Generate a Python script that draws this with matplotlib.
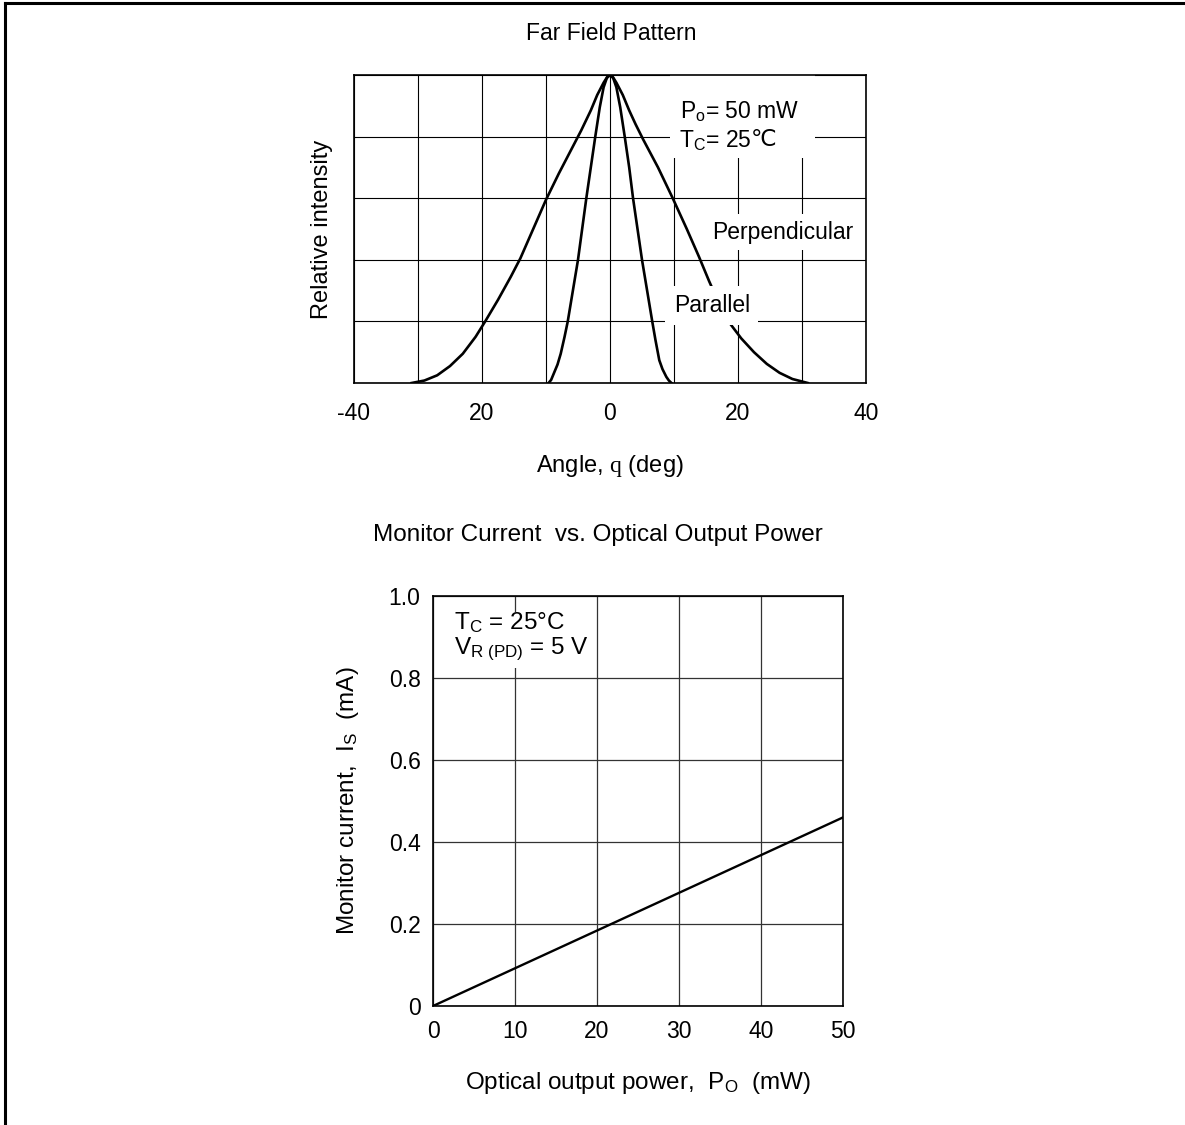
import matplotlib
matplotlib.use("Agg")
import matplotlib.pyplot as plt
from matplotlib.lines import Line2D
from matplotlib.patches import Rectangle

plt.rcParams['font.family'] = ['Liberation Sans', 'DejaVu Sans']
plt.rcParams['mathtext.fontset'] = 'custom'
plt.rcParams['mathtext.rm'] = 'Liberation Sans'
plt.rcParams['mathtext.it'] = 'Liberation Sans:italic'
plt.rcParams['mathtext.sf'] = 'Liberation Serif'
plt.rcParams['font.size'] = 16.5

######### Data #########
# Far field pattern, perpendicular (wide) curve
perp_angle = [-31.0, -29.0, -27.0, -25.0, -23.0, -21.0, -19.5, -17.5, -15.5, -14.0,
              -12.0, -10.0, -8.0, -6.0, -4.5, -3.0, -2.0, -1.0, -0.4, 0.0,
              0.4, 1.0, 2.0, 3.0, 4.0, 5.2, 7.5, 9.8, 12.0, 13.9,
              15.5, 17.0, 18.5, 20.5, 22.5, 24.5, 26.5, 28.5, 30.9]
perp_int = [0.0, 0.008, 0.025, 0.055, 0.095, 0.15, 0.20, 0.27, 0.345, 0.405,
            0.50, 0.595, 0.68, 0.76, 0.82, 0.885, 0.935, 0.975, 0.995, 1.0,
            0.995, 0.975, 0.935, 0.885, 0.84, 0.79, 0.70, 0.60, 0.50, 0.41,
            0.33, 0.26, 0.20, 0.145, 0.10, 0.062, 0.033, 0.013, 0.0]

# Far field pattern, parallel (narrow) curve
par_angle = [-9.6, -9.2, -8.8, -8.2, -7.7, -7.1, -6.6, -5.8, -5.0, -4.35,
             -3.7, -3.0, -2.3, -1.6, -1.0, -0.5, 0.0,
             0.5, 1.0, 1.6, 2.3, 3.0, 3.6, 4.3, 5.0, 5.8,
             6.6, 7.1, 7.7, 8.2, 8.8, 9.2, 9.6]
par_int = [0.0, 0.01, 0.03, 0.06, 0.095, 0.15, 0.20, 0.30, 0.40, 0.50,
           0.60, 0.70, 0.80, 0.895, 0.96, 0.99, 1.0,
           0.99, 0.96, 0.895, 0.80, 0.70, 0.60, 0.50, 0.40, 0.30,
           0.20, 0.14, 0.074, 0.045, 0.02, 0.008, 0.0]

angle_ticks = [-40, -30, -20, -10, 0, 10, 20, 30, 40]
angle_labels = ['-40', '', '20', '', '0', '', '20', '', '40']
intensity_ticks = [0, 0.2, 0.4, 0.6, 0.8, 1.0]

# Monitor current vs optical output power
power_mw = [0, 50]
current_ma = [0.0, 0.46]
power_ticks = [0, 10, 20, 30, 40, 50]
current_ticks = [0, 0.2, 0.4, 0.6, 0.8, 1.0]
current_labels = ['0', '0.2', '0.4', '0.6', '0.8', '1.0']

W, H = 1185, 1125
fig = plt.figure(figsize=(W / 100, H / 100), dpi=100)

# frame lines at left and top edge
fig.add_artist(Line2D([5 / W, 5 / W], [0, 1 - 3 / H], color='black', lw=2.2))
fig.add_artist(Line2D([5 / W, 1], [1 - 3 / H, 1 - 3 / H], color='black', lw=2.2))

######### Far Field Pattern #########
ax1 = fig.add_axes([354 / W, 1 - 383 / H, 512 / W, 308 / H])
ax1.plot(perp_angle, perp_int, color='black', lw=1.9, zorder=2)
ax1.plot(par_angle, par_int, color='black', lw=1.9, zorder=2)
ax1.set_xlim(-40, 40)
ax1.set_ylim(0, 1)
ax1.set_xticks(angle_ticks)
ax1.set_xticklabels(angle_labels)
ax1.set_yticks(intensity_ticks)
ax1.set_yticklabels([])
ax1.tick_params(length=0, pad=14, labelsize=16.5)
ax1.grid(True, color='black', lw=0.8)
ax1.set_axisbelow(True)
for sp in ax1.spines.values():
    sp.set_linewidth(1.2)
    sp.set_zorder(4)

# white patch behind the condition text
ax1.add_patch(Rectangle((9.4, 0.73), 22.6, 0.27, facecolor='white',
                        edgecolor='none', zorder=1.5))
ax1.text(11.0, 0.860, 'P$_\\mathrm{o}$= 50 mW', ha='left', va='baseline',
         fontsize=16.5, zorder=3)
t_tc = ax1.text(10.8, 0.766, 'T$_\\mathrm{C}$= 25', ha='left', va='baseline',
                fontsize=16.5, zorder=3)
ax1.annotate('\u2103', xy=(1, 1), xycoords=t_tc, xytext=(-1, 0),
             textcoords='offset points', ha='left', va='top',
             fontsize=16.5, zorder=3)

ax1.text(27.0, 0.469, 'Perpendicular', ha='center', va='baseline', fontsize=16.5,
         zorder=3, bbox=dict(facecolor='white', edgecolor='none', pad=5))
ax1.text(15.9, 0.23, 'Parallel', ha='center', va='baseline', fontsize=16.5,
         zorder=3, bbox=dict(facecolor='white', edgecolor='none', pad=6))

ax1.set_xlabel('Angle, $\\mathsf{q}$ (deg)', fontsize=17)
ax1.xaxis.label.set_va('center')
ax1.xaxis.set_label_coords(0.5, (383 - 466) / 308)
ax1.set_ylabel('Relative intensity', fontsize=17)
ax1.yaxis.label.set_va('center')
ax1.yaxis.set_label_coords((322 - 354) / 512, 0.5)

fig.text(611 / W, 1 - 33 / H, 'Far Field Pattern', ha='center', va='center', fontsize=16.5)

######### Monitor Current vs. Optical Output Power #########
ax2 = fig.add_axes([433 / W, 1 - 1006 / H, 410 / W, 410 / H])
ax2.plot(power_mw, current_ma, color='black', lw=1.7, zorder=2)
ax2.set_xlim(0, 50)
ax2.set_ylim(0, 1.0)
ax2.set_xticks(power_ticks)
ax2.set_yticks(current_ticks)
ax2.set_yticklabels(current_labels)
ax2.tick_params(axis='x', length=0, pad=10, labelsize=16.5)
ax2.tick_params(axis='y', length=0, pad=9, labelsize=16.5)
ax2.grid(True, color='#333333', lw=0.9)
ax2.set_axisbelow(True)
for sp in ax2.spines.values():
    sp.set_linewidth(1.2)
    sp.set_zorder(4)

ax2.add_patch(Rectangle((2.0, 0.824), 17.6, 0.137, facecolor='white',
                        edgecolor='none', zorder=1.5))
ax2.text(2.6, 0.920, 'T$_\\mathrm{C}$ = 25°C', ha='left', va='baseline',
         fontsize=17.5, zorder=3)
ax2.text(2.6, 0.859, 'V$_\\mathrm{R\\ (PD)}$ = 5 V', ha='left', va='baseline',
         fontsize=17.5, zorder=3)

ax2.set_xlabel('Optical output power,  P$_\\mathrm{O}$  (mW)', fontsize=17.5)
ax2.xaxis.label.set_va('center')
ax2.xaxis.set_label_coords(0.5, (1006 - 1083) / 410)
ax2.set_ylabel('Monitor current,  I$_\\mathrm{S}$  (mA)', fontsize=17.5)
ax2.yaxis.label.set_va('center')
ax2.yaxis.set_label_coords((348 - 433) / 410, 0.5)

fig.text(598 / W, 1 - 535 / H, 'Monitor Current  vs. Optical Output Power',
         ha='center', va='center', fontsize=17.5)

fig.savefig('out.png', dpi=100)
